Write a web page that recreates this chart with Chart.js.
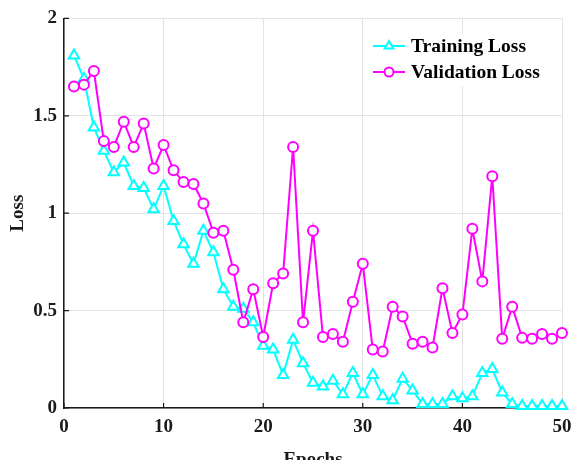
<!DOCTYPE html>
<html>
<head>
<meta charset="utf-8">
<script src="https://cdn.jsdelivr.net/npm/chart.js@4"></script>
<style>
  html, body { margin: 0; padding: 0; background: #fff; overflow: hidden; }
  canvas { display: block; }
</style>
</head>
<body>
<canvas id="lossChart" width="571" height="472"></canvas>
<script>
const epochs = [1, 2, 3, 4, 5, 6, 7, 8, 9, 10, 11, 12, 13, 14, 15, 16, 17, 18, 19, 20,
  21, 22, 23, 24, 25, 26, 27, 28, 29, 30, 31, 32, 33, 34, 35, 36, 37, 38, 39, 40,
  41, 42, 43, 44, 45, 46, 47, 48, 49, 50];
const trainLoss = [1.81, 1.69, 1.44, 1.32, 1.21, 1.26, 1.14, 1.13, 1.02, 1.14,
  0.96, 0.84, 0.74, 0.91, 0.80, 0.61, 0.52, 0.51, 0.44, 0.32,
  0.30, 0.17, 0.35, 0.23, 0.13, 0.11, 0.14, 0.07, 0.18, 0.07,
  0.17, 0.06, 0.04, 0.15, 0.09, 0.02, 0.02, 0.02, 0.06, 0.05,
  0.06, 0.18, 0.20, 0.08, 0.02, 0.01, 0.01, 0.01, 0.01, 0.01];
const valLoss = [1.65, 1.66, 1.73, 1.37, 1.34, 1.47, 1.34, 1.46, 1.23, 1.35,
  1.22, 1.16, 1.15, 1.05, 0.90, 0.91, 0.71, 0.44, 0.61, 0.365,
  0.64, 0.69, 1.34, 0.44, 0.91, 0.365, 0.38, 0.34, 0.545, 0.74,
  0.30, 0.29, 0.52, 0.47, 0.33, 0.34, 0.31, 0.615, 0.385, 0.48,
  0.92, 0.65, 1.19, 0.355, 0.52, 0.36, 0.355, 0.38, 0.355, 0.385];
const xTickLabels = ['0', '10', '20', '30', '40', '50'];
const yTickLabels = ['0', '0.5', '1', '1.5', '2'];
const seriesNames = ['Training Loss', 'Validation Loss'];

const serif = '"Liberation Serif", "Times New Roman", serif';
const axisColor = '#1a1a1a';

// small inward tick marks like the original plot
const innerTicks = {
  id: 'innerTicks',
  beforeDatasetsDraw(chart) {
    const { ctx, chartArea, scales } = chart;
    ctx.save();
    ctx.strokeStyle = axisColor;
    ctx.lineWidth = 1.2;
    ctx.beginPath();
    scales.x.ticks.forEach(t => {
      const px = scales.x.getPixelForValue(t.value);
      ctx.moveTo(px, chartArea.bottom);
      ctx.lineTo(px, chartArea.bottom - 5);
    });
    scales.y.ticks.forEach(t => {
      const py = scales.y.getPixelForValue(t.value);
      ctx.moveTo(chartArea.left, py);
      ctx.lineTo(chartArea.left + 5, py);
    });
    ctx.stroke();
    ctx.restore();
  }
};

// legend drawn as line + marker, inside the top right corner
const lineLegend = {
  id: 'lineLegend',
  afterDatasetsDraw(chart) {
    const ctx = chart.ctx;
    ctx.save();
    ctx.fillStyle = '#fff';
    ctx.fillRect(364, 34, 188, 52);
    chart.data.datasets.forEach((ds, i) => {
      const y = 46 + i * 26;
      ctx.strokeStyle = ds.borderColor;
      ctx.lineWidth = 2;
      ctx.beginPath();
      ctx.moveTo(373, y);
      ctx.lineTo(405, y);
      ctx.stroke();
      ctx.fillStyle = '#fff';
      ctx.beginPath();
      if (ds.pointStyle === 'triangle') {
        const r = 5;
        ctx.moveTo(389, y - r);
        ctx.lineTo(389 + r * 0.866, y + r * 0.5);
        ctx.lineTo(389 - r * 0.866, y + r * 0.5);
        ctx.closePath();
      } else {
        ctx.arc(389, y, 4.5, 0, Math.PI * 2);
      }
      ctx.fill();
      ctx.stroke();
      ctx.fillStyle = '#000';
      ctx.font = 'bold 19.5px ' + serif;
      ctx.textBaseline = 'middle';
      ctx.fillText(ds.label, 411, y + 1);
    });
    ctx.restore();
  }
};

new Chart(document.getElementById('lossChart').getContext('2d'), {
  type: 'line',
  data: {
    labels: epochs,
    datasets: [
      {
        label: seriesNames[0],
        data: epochs.map((e, i) => ({ x: e, y: trainLoss[i] })),
        borderColor: '#00ffff',
        backgroundColor: '#ffffff',
        pointBackgroundColor: '#ffffff',
        pointBorderColor: '#00ffff',
        pointStyle: 'triangle',
        pointRadius: 6,
        pointBorderWidth: 2,
        borderWidth: 2,
        tension: 0,
        clip: false,
        order: 2
      },
      {
        label: seriesNames[1],
        data: epochs.map((e, i) => ({ x: e, y: valLoss[i] })),
        borderColor: '#ff00ff',
        backgroundColor: '#ffffff',
        pointBackgroundColor: '#ffffff',
        pointBorderColor: '#ff00ff',
        pointStyle: 'circle',
        pointRadius: 5,
        pointBorderWidth: 2,
        borderWidth: 2,
        tension: 0,
        clip: false,
        order: 1
      }
    ]
  },
  options: {
    responsive: false,
    animation: false,
    layout: { padding: { top: 18, right: 0, bottom: 0, left: 0 } },
    plugins: {
      legend: { display: false },
      tooltip: { enabled: false }
    },
    scales: {
      x: {
        type: 'linear',
        min: 0,
        max: 50,
        afterFit(scale) {
          scale.height = 64;
          scale.paddingLeft = 0;
          scale.paddingRight = 9;
        },
        grid: { color: '#e3e3e3', lineWidth: 1, drawTicks: false },
        border: { display: true, color: axisColor, width: 1.5 },
        ticks: {
          stepSize: 10,
          padding: 8,
          color: axisColor,
          font: { family: serif, size: 19, weight: 'bold' },
          callback: v => xTickLabels.find(t => Number(t) === v)
        },
        title: {
          display: true,
          text: 'Epochs',
          color: axisColor,
          padding: { top: 0, bottom: 1 },
          font: { family: serif, size: 19, weight: 'bold' }
        }
      },
      y: {
        min: 0,
        max: 2,
        afterFit(scale) { scale.width = 64; },
        grid: { color: '#e3e3e3', lineWidth: 1, drawTicks: false },
        border: { display: true, color: axisColor, width: 1.5 },
        ticks: {
          stepSize: 0.5,
          padding: 7,
          color: axisColor,
          font: { family: serif, size: 19, weight: 'bold' },
          callback: v => yTickLabels.find(t => Number(t) === v)
        },
        title: {
          display: true,
          text: 'Loss',
          color: axisColor,
          padding: { top: 7, bottom: 0 },
          font: { family: serif, size: 19, weight: 'bold' }
        }
      }
    }
  },
  plugins: [innerTicks, lineLegend]
});
</script>
</body>
</html>
